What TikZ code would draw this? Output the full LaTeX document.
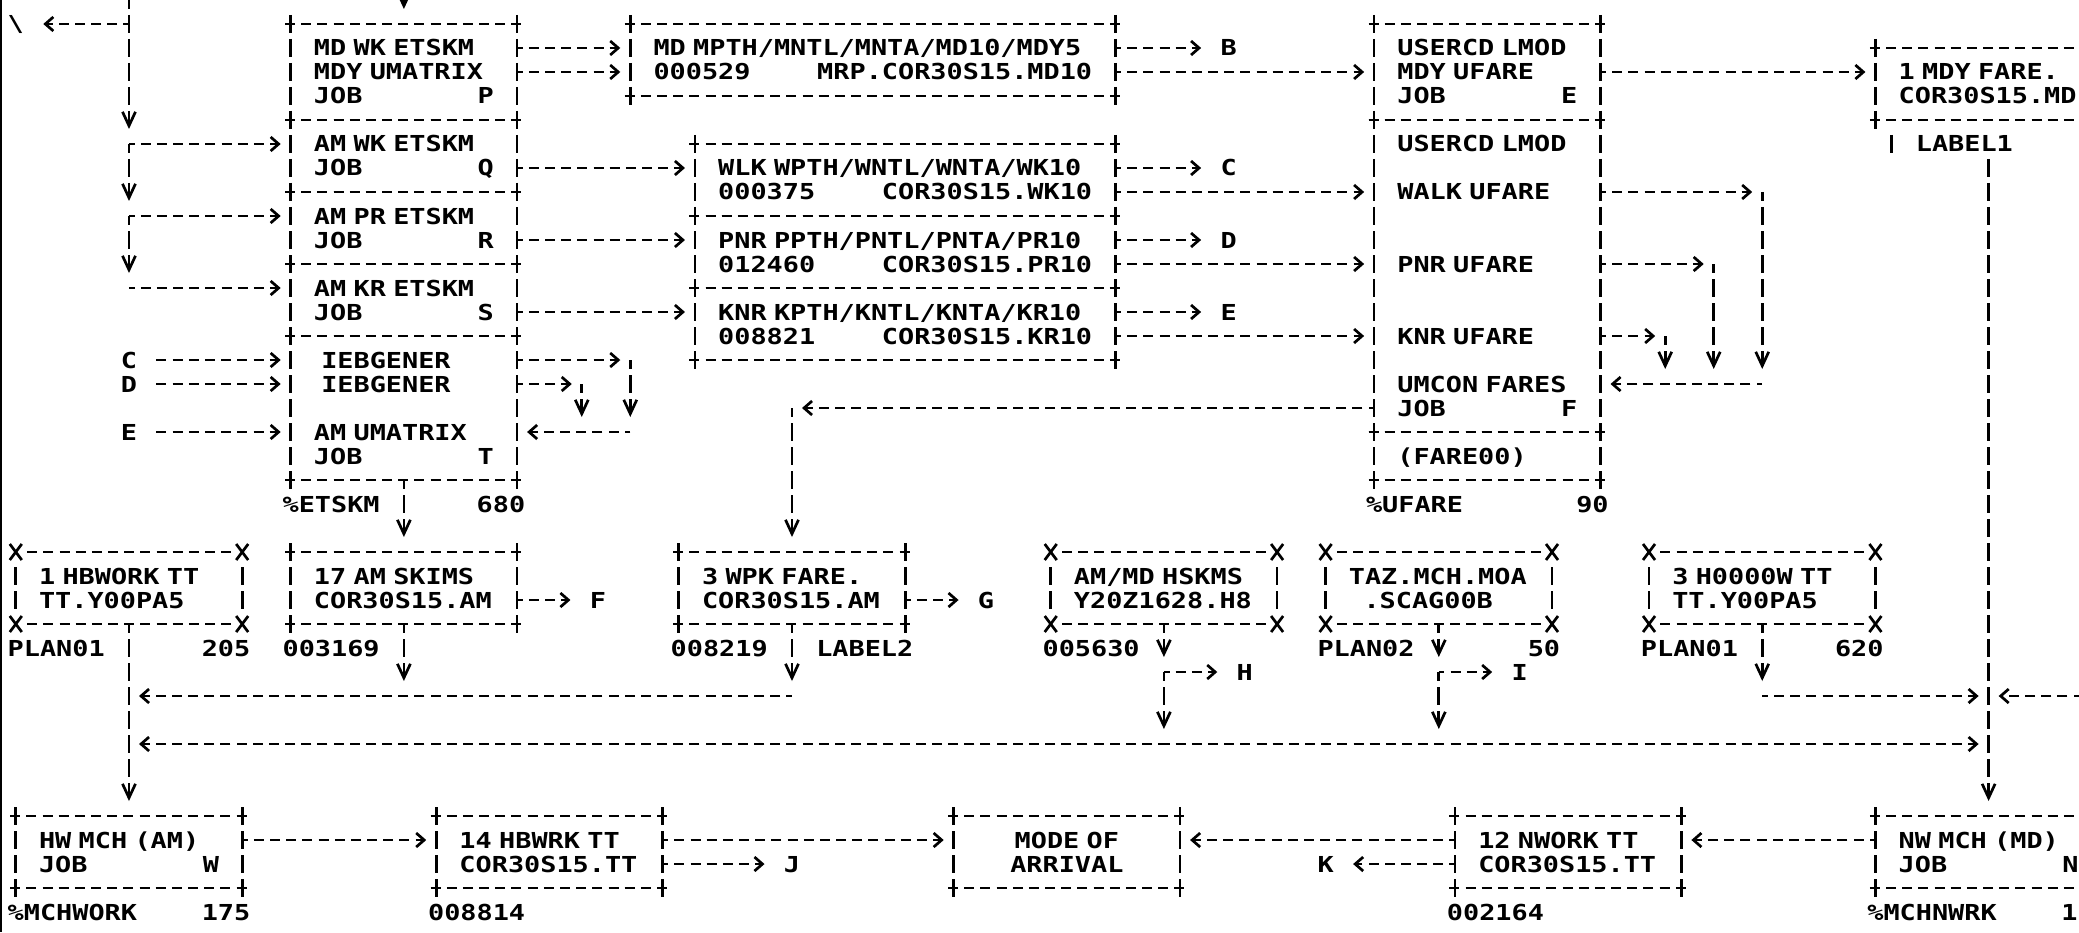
\documentclass[tikz,border=0pt]{standalone}
\usepackage{fontspec}
\newfontfamily\jobfont[FakeStretch=1.2208]{DejaVu Sans Mono}
\usetikzlibrary{arrows.meta,calc}

\newcommand{\colw}{8.085pt}
\newcommand{\boxfont}{\jobfont\bfseries\fontsize{11pt}{12pt}\selectfont\spaceskip=\colw\xspaceskip=\colw\relax}

\begin{document}
\begin{tikzpicture}[x=8.085pt, y=-12pt, line width=1.35pt,
    hrule/.style={draw, dash pattern=on 5pt off 3.085pt, shorten <=-2.8pt, shorten >=-2.8pt},
    vrule/.style={draw, dash pattern=on 9pt off 3pt, shorten <=-4.5pt, shorten >=-4.5pt},
    dhrule/.style={hrule, shorten <=4pt, shorten >=4pt, dash phase=6.4pt},
    dvrule/.style={vrule, shorten <=4.5pt, shorten >=4.5pt, dash phase=9pt},
    xrule/.style={draw, solid},
    boxtext/.style={inner sep=0pt, outer sep=0pt, font=\boxfont, align=left,
      execute at begin node={\rule[-2pt]{0pt}{12pt}},
      execute at end node={\rule[-2pt]{0pt}{12pt}}},
    jobbox/.style={boxtext, append after command={
      (\tikzlastnode.north west) edge[hrule] (\tikzlastnode.north east)
      (\tikzlastnode.south west) edge[hrule] (\tikzlastnode.south east)
      (\tikzlastnode.north west) edge[vrule] (\tikzlastnode.south west)
      (\tikzlastnode.north east) edge[vrule] (\tikzlastnode.south east)}},
    databox/.style={boxtext, append after command={
      (\tikzlastnode.north west) edge[dhrule] (\tikzlastnode.north east)
      (\tikzlastnode.south west) edge[dhrule] (\tikzlastnode.south east)
      (\tikzlastnode.north west) edge[dvrule] (\tikzlastnode.south west)
      (\tikzlastnode.north east) edge[dvrule] (\tikzlastnode.south east)
      ($(\tikzlastnode.north west)+(-3pt,4pt)$) edge[xrule] ($(\tikzlastnode.north west)+(3pt,-4pt)$)
      ($(\tikzlastnode.north west)+(-3pt,-4pt)$) edge[xrule] ($(\tikzlastnode.north west)+(3pt,4pt)$)
      ($(\tikzlastnode.north east)+(-3pt,4pt)$) edge[xrule] ($(\tikzlastnode.north east)+(3pt,-4pt)$)
      ($(\tikzlastnode.north east)+(-3pt,-4pt)$) edge[xrule] ($(\tikzlastnode.north east)+(3pt,4pt)$)
      ($(\tikzlastnode.south west)+(-3pt,4pt)$) edge[xrule] ($(\tikzlastnode.south west)+(3pt,-4pt)$)
      ($(\tikzlastnode.south west)+(-3pt,-4pt)$) edge[xrule] ($(\tikzlastnode.south west)+(3pt,4pt)$)
      ($(\tikzlastnode.south east)+(-3pt,4pt)$) edge[xrule] ($(\tikzlastnode.south east)+(3pt,-4pt)$)
      ($(\tikzlastnode.south east)+(-3pt,-4pt)$) edge[xrule] ($(\tikzlastnode.south east)+(3pt,4pt)$)}},
    w15/.style={minimum width=14*\colw, text width=11*\colw+1pt},
    w27/.style={minimum width=26*\colw, text width=23*\colw+1pt},
    w31/.style={minimum width=30*\colw, text width=27*\colw+1pt},
    rows/.style={minimum height=#1*12pt},
    tag/.style={anchor=base west, inner sep=0pt, outer sep=0pt, font=\boxfont, yshift=-4pt},
    hflow/.style={draw, dash pattern=on 5pt off 3.085pt, dash phase=2.2pt,
      -{Straight Barb[length=4pt, width=7pt]}, shorten >=5pt},
    vflow/.style={draw, dash pattern=on 9pt off 3pt, dash phase=4.5pt,
      -{Straight Barb[length=7pt, width=6.5pt]}, shorten >=7.5pt},
    hwire/.style={draw, dash pattern=on 5pt off 3.085pt, dash phase=2.2pt},
    vwire/.style={draw, dash pattern=on 9pt off 3pt, dash phase=4.5pt},
    tolabel/.style={shorten >=9.7pt},
    fromlabel/.style={shorten <=9.7pt, dash phase=0pt}]
  \useasboundingbox (-0.977,-1) rectangle (127.59,37.833);
  \draw[line width=1pt] (-0.915,-1) -- (-0.915,37.833);

  \node[jobbox, w15, rows=4] (mdwk) at (24,2) {MD WK ETSKM\\MDY UMATRIX\\JOB\hfill P};
  \node[jobbox, w15, rows=3] (amwk) at (24,5.5) {AM WK ETSKM\\JOB\hfill Q};
  \node[jobbox, w15, rows=3] (ampr) at (24,8.5) {AM PR ETSKM\\JOB\hfill R};
  \node[jobbox, w15, rows=3] (amkr) at (24,11.5) {AM KR ETSKM\\JOB\hfill S};
  \node[jobbox, w15, rows=6] (umat) at (24,16) {~IEBGENER\\~IEBGENER\\\mbox{}\\AM UMATRIX\\JOB\hfill T};
  \node[jobbox, w15, rows=3] (skims) at (24,23.5) {17 AM SKIMS\\COR30S15.AM};
  \node[databox, w15, rows=3] (hbwork) at (7,23.5) {1 HBWORK TT\\TT.Y00PA5};
  \node[jobbox, w15, rows=3] (hwmch) at (7,34.5) {HW MCH (AM)\\JOB\hfill W};

  \node[jobbox, w31, rows=3] (mdpth) at (53,1.5) {MD MPTH/MNTL/MNTA/MD10/MDY5\\000529\hfill MRP.COR30S15.MD10};
  \node[jobbox, w27, rows=3] (wkpth) at (55,6.5) {WLK WPTH/WNTL/WNTA/WK10\\000375\hfill COR30S15.WK10};
  \node[jobbox, w27, rows=3] (prpth) at (55,9.5) {PNR PPTH/PNTL/PNTA/PR10\\012460\hfill COR30S15.PR10};
  \node[jobbox, w27, rows=3] (krpth) at (55,12.5) {KNR KPTH/KNTL/KNTA/KR10\\008821\hfill COR30S15.KR10};

  \node[jobbox, w15, rows=4] (lmod) at (91,2) {USERCD LMOD\\MDY UFARE\\JOB\hfill E};
  \node[jobbox, w15, rows=13] (ufare) at (91,10.5) {USERCD LMOD\\\mbox{}\\WALK UFARE\\\mbox{}\\\mbox{}\\PNR UFARE\\\mbox{}\\\mbox{}\\KNR UFARE\\\mbox{}\\UMCON FARES\\JOB\hfill F};
  \node[jobbox, w15, rows=2] (fare) at (91,18) {(FARE00)};
  \node[jobbox, w15, rows=3] (mdyfare) at (122,2.5) {1 MDY FARE.\\COR30S15.MD};
  \node[jobbox, w15, rows=3] (wpk) at (48,23.5) {3 WPK FARE.\\COR30S15.AM};
  \node[databox, w15, rows=3] (hskms) at (71,23.5) {AM/MD HSKMS\\Y20Z1628.H8};
  \node[databox, w15, rows=3] (taz) at (88,23.5) {TAZ.MCH.MOA\\~~.SCAG00B};
  \node[databox, w15, rows=3] (hooow) at (108,23.5) {3 H0000W TT\\TT.Y00PA5};

  \node[jobbox, w15, rows=3] (hbwrk) at (33,34.5) {14 HBWRK TT\\COR30S15.TT};
  \node[jobbox, w15, rows=3, align=center] (mode) at (65,34.5) {MODE OF\\ARRIVAL};
  \node[jobbox, w15, rows=3] (nwork) at (96,34.5) {12 NWORK TT\\COR30S15.TT};
  \node[jobbox, w15, rows=3] (nwmch) at (122,34.5) {NW MCH (MD)\\JOB\hfill N};

  \node[tag] (bs) at (-0.5,0) {\textbackslash};
  \node[tag] (inc) at (6.5,14) {C};
  \node[tag] (ind) at (6.5,15) {D};
  \node[tag] (ine) at (6.5,17) {E};
  \node[tag] (etskm) at (16.5,20) {\%ETSKM};
  \node[tag] (etskmn) at (28.5,20) {680};
  \node[tag] (ufpct) at (83.5,20) {\%UFARE};
  \node[tag] (ufpctn) at (96.5,20) {90};
  \node[tag] (outb) at (74.5,1) {B};
  \node[tag] (outc) at (74.5,6) {C};
  \node[tag] (outd) at (74.5,9) {D};
  \node[tag] (oute) at (74.5,12) {E};
  \node[tag] (outf) at (35.5,24) {F};
  \node[tag] (outg) at (59.5,24) {G};
  \node[tag] (outh) at (75.5,27) {H};
  \node[tag] (outi) at (92.5,27) {I};
  \node[tag] (outj) at (47.5,35) {J};
  \node[tag] (outk) at (80.5,35) {K};
  \node[tag] (plana) at (-0.5,26) {PLAN01};
  \node[tag] (planan) at (11.5,26) {205};
  \node[tag] (skimsn) at (16.5,26) {003169};
  \node[tag] (wpkn) at (40.5,26) {008219};
  \node[tag] (label2) at (49.5,26) {LABEL2};
  \node[tag] (hskmsn) at (63.5,26) {005630};
  \node[tag] (planb) at (80.5,26) {PLAN02};
  \node[tag] (planbn) at (93.5,26) {50};
  \node[tag] (planc) at (100.5,26) {PLAN01};
  \node[tag] (plancn) at (112.5,26) {620};
  \node[tag] (label1) at (117.5,5) {LABEL1};
  \node[tag] (mchwork) at (-0.5,37) {\%MCHWORK};
  \node[tag] (mchworkn) at (11.5,37) {175};
  \node[tag] (hbwrkn) at (25.5,37) {008814};
  \node[tag] (nworkn) at (88.5,37) {002164};
  \node[tag] (mchnwrk) at (114.5,37) {\%MCHNWRK};
  \node[tag] (mchnwrkn) at (126.5,37) {1};

  \coordinate (topa) at (7,-1.375);
  \coordinate (topp) at (24,-2);
  \coordinate (ja) at (7,0);
  \coordinate (jb) at (7,5);
  \coordinate (jc) at (7,8);
  \coordinate (jd) at (7,11);
  \coordinate (lpa) at (38,14);
  \coordinate (lpb) at (38,17);
  \coordinate (lpc) at (35,15);
  \coordinate (lpd) at (35,17);
  \coordinate (fwk) at (108,7);
  \coordinate (fwkd) at (108,15);
  \coordinate (fpr) at (105,10);
  \coordinate (fprd) at (105,15);
  \coordinate (fkr) at (102,13);
  \coordinate (fkrd) at (102,15);
  \coordinate (jf) at (48,16);
  \coordinate (jam) at (24,28);
  \coordinate (jg) at (48,28);
  \coordinate (jw) at (7,28);
  \coordinate (jx) at (7,30);
  \coordinate (jh) at (71,27);
  \coordinate (jhd) at (71,30);
  \coordinate (ji) at (88,27);
  \coordinate (jid) at (88,30);
  \coordinate (jo) at (108,28);
  \coordinate (jn) at (122,28);
  \coordinate (jm) at (122,30);
  \coordinate (rim) at (128.6,28);

  \draw[vwire, dash phase=0pt] (topa) -- (ja);
  \draw[hflow, tolabel] (ja) -- (bs.east |- ja);
  \draw[vflow] (ja) -- (jb);
  \draw[hflow] (jb) -- (amwk.west |- jb);
  \draw[vflow] (jb) -- (jc);
  \draw[hflow] (jc) -- (ampr.west |- jc);
  \draw[vflow] (jc) -- (jd);
  \draw[hflow] (jd) -- (amkr.west |- jd);
  \draw[vflow] (topp) -- (mdwk.north);

  \draw[hflow] (mdwk.east |- 0,1) -- (mdpth.west |- 0,1);
  \draw[hflow] (mdwk.east |- 0,2) -- (mdpth.west |- 0,2);
  \draw[hflow, tolabel] (mdpth.east |- 0,1) -- (outb.west |- 0,1);
  \draw[hflow] (mdpth.east |- 0,2) -- (lmod.west |- 0,2);
  \draw[hflow] (lmod.east |- 0,2) -- (mdyfare.west |- 0,2);
  \draw[hflow] (amwk.east |- 0,6) -- (wkpth.west |- 0,6);
  \draw[hflow, tolabel] (wkpth.east |- 0,6) -- (outc.west |- 0,6);
  \draw[hflow] (wkpth.east |- 0,7) -- (ufare.west |- 0,7);
  \draw[hflow] (ampr.east |- 0,9) -- (prpth.west |- 0,9);
  \draw[hflow, tolabel] (prpth.east |- 0,9) -- (outd.west |- 0,9);
  \draw[hflow] (prpth.east |- 0,10) -- (ufare.west |- 0,10);
  \draw[hflow] (amkr.east |- 0,12) -- (krpth.west |- 0,12);
  \draw[hflow, tolabel] (krpth.east |- 0,12) -- (oute.west |- 0,12);
  \draw[hflow] (krpth.east |- 0,13) -- (ufare.west |- 0,13);

  \draw[hflow] (ufare.east |- fwk) -- (fwk);
  \draw[vflow] (fwk) -- (fwkd);
  \draw[hflow] (ufare.east |- fpr) -- (fpr);
  \draw[vflow] (fpr) -- (fprd);
  \draw[hflow] (ufare.east |- fkr) -- (fkr);
  \draw[vflow] (fkr) -- (fkrd);
  \draw[hflow] (fwkd) -- (ufare.east |- fwkd);
  \draw[hflow] (ufare.west |- jf) -- (jf);
  \draw[vflow] (jf) -- (wpk.north);

  \draw[hflow, fromlabel] (inc.east |- 0,14) -- (umat.west |- 0,14);
  \draw[hflow, fromlabel] (ind.east |- 0,15) -- (umat.west |- 0,15);
  \draw[hflow, fromlabel] (ine.east |- 0,17) -- (umat.west |- 0,17);
  \draw[hflow] (umat.east |- lpa) -- (lpa);
  \draw[vflow] (lpa) -- (lpb);
  \draw[hflow] (umat.east |- lpc) -- (lpc);
  \draw[vflow] (lpc) -- (lpd);
  \draw[hflow] (lpb) -- (umat.east |- lpb);
  \draw[vflow] (umat.south) -- (skims.north);
  \draw[hflow, tolabel] (skims.east |- 0,24) -- (outf.west |- 0,24);
  \draw[vflow] (skims.south) -- (jam);
  \draw[hflow, tolabel] (wpk.east |- 0,24) -- (outg.west |- 0,24);
  \draw[vflow] (wpk.south) -- (jg);
  \draw[hflow] (jg) -- (jw);
  \draw[vwire] (hbwork.south) -- (jw);
  \draw[vwire] (jw) -- (jx);
  \draw[vflow] (jx) -- (hwmch.north);

  \draw[vflow] (hskms.south) -- (jh);
  \draw[hflow, tolabel] (jh) -- (outh.west |- jh);
  \draw[vflow] (jh) -- (jhd);
  \draw[vflow] (taz.south) -- (ji);
  \draw[hflow, tolabel] (ji) -- (outi.west |- ji);
  \draw[vflow] (ji) -- (jid);
  \draw[hflow] (jhd) -- (jx);
  \draw[hflow] (jhd) -- (jm);
  \draw[vflow] (hooow.south) -- (jo);
  \draw[hflow] (jo) -- (jn);
  \draw[hflow] (rim) -- (jn);
  \draw[vwire, dash phase=0pt, shorten <=19.5pt] (mdyfare.south) -- (jn);
  \draw (116,4.62) -- (116,5.38);
  \draw[vwire] (jn) -- (jm);
  \draw[vflow] (jm) -- (nwmch.north);

  \draw[hflow] (hwmch.east |- 0,34) -- (hbwrk.west |- 0,34);
  \draw[hflow] (hbwrk.east |- 0,34) -- (mode.west |- 0,34);
  \draw[hflow, tolabel] (hbwrk.east |- 0,35) -- (outj.west |- 0,35);
  \draw[hflow] (nwork.west |- 0,34) -- (mode.east |- 0,34);
  \draw[hflow, tolabel] (nwork.west |- 0,35) -- (outk.east |- 0,35);
  \draw[hflow] (nwmch.west |- 0,34) -- (nwork.east |- 0,34);
\end{tikzpicture}
\end{document}
